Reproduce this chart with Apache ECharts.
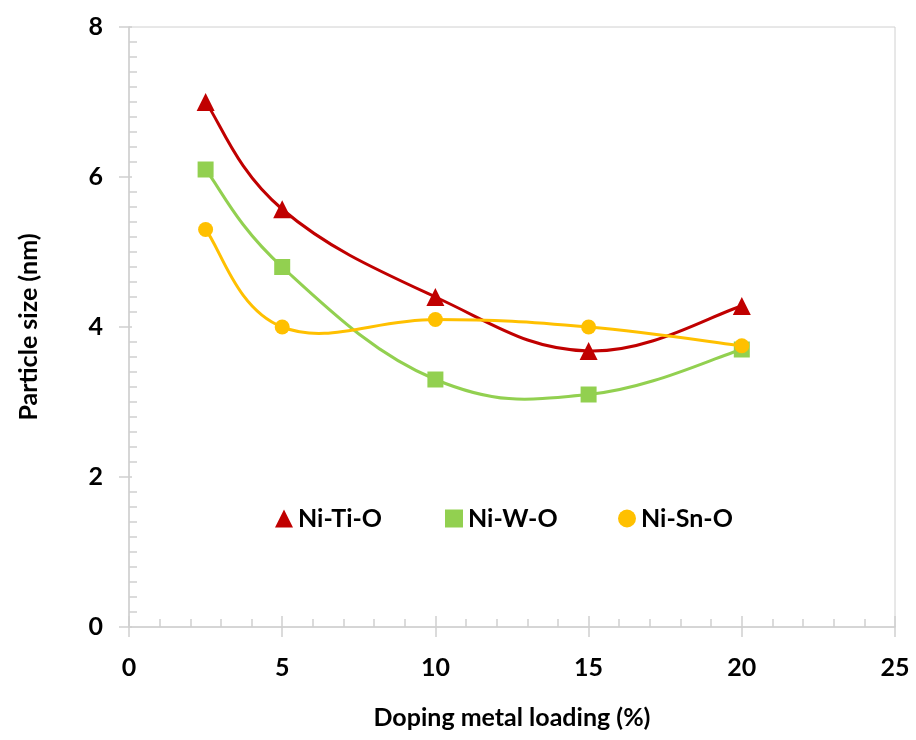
<!DOCTYPE html>
<html>
<head>
<meta charset="utf-8">
<script src="https://cdn.jsdelivr.net/npm/echarts@6/dist/echarts.min.js"></script>
<style>
  html, body { margin: 0; padding: 0; background: #fff; }
  #chart { width: 916px; height: 740px; }
</style>
</head>
<body>
<div id="chart"></div>
<script>
// Doping metal loading (%) at which each sample was measured
const loading = [2.5, 5, 10, 15, 20];

// Particle size (nm) per doped oxide
const niTiO = [7.0, 5.57, 4.4, 3.68, 4.28];
const niWO  = [6.1, 4.8, 3.3, 3.1, 3.7];
const niSnO = [5.3, 4.0, 4.1, 4.0, 3.75];

const seriesNames = ['Ni-Ti-O', 'Ni-W-O', 'Ni-Sn-O'];
const seriesColors = ['#C00000', '#92D050', '#FFC000'];

const FONT = 'Lato, "Open Sans", sans-serif';
const AXIS_GREY = '#d0d0d0';
const TENSION = 0.2;   // control-point distance as a fraction of the neighbour span

const pairs = (vals) => loading.map((x, i) => [x, vals[i]]);

const chart = echarts.init(document.getElementById('chart'), null, { renderer: 'canvas' });

// Smoothed connecting line: one cubic Bezier per segment, Catmull-Rom style,
// with control points derived from the neighbouring points in pixel space.
function curveSeries(name, vals, color, z) {
  return {
    name: name,
    type: 'custom',
    xAxisIndex: 0,
    yAxisIndex: 0,
    z: z,
    silent: true,
    itemStyle: { color: color },
    data: pairs(vals),
    encode: { x: 0, y: 1 },
    renderItem: function (params, api) {
      const i = params.dataIndex;
      const n = loading.length;
      if (i >= n - 1) return { type: 'group', children: [] };
      const clampIdx = (k) => Math.max(0, Math.min(n - 1, k));
      const pt = (k) => api.coord([loading[clampIdx(k)], vals[clampIdx(k)]]);
      const p0 = pt(i - 1), p1 = pt(i), p2 = pt(i + 1), p3 = pt(i + 2);
      return {
        type: 'bezierCurve',
        shape: {
          x1: p1[0], y1: p1[1],
          x2: p2[0], y2: p2[1],
          cpx1: p1[0] + (p2[0] - p0[0]) * TENSION,
          cpy1: p1[1] + (p2[1] - p0[1]) * TENSION,
          cpx2: p2[0] - (p3[0] - p1[0]) * TENSION,
          cpy2: p2[1] - (p3[1] - p1[1]) * TENSION
        },
        style: { stroke: color, lineWidth: 3, fill: null, lineCap: 'round' }
      };
    }
  };
}

function markerSeries(name, vals, color, symbol, size, z) {
  return {
    name: name,
    type: 'scatter',
    xAxisIndex: 0,
    yAxisIndex: 0,
    z: z,
    data: pairs(vals),
    symbol: symbol,
    symbolSize: size,
    itemStyle: { color: color, opacity: 1 },
    emphasis: { disabled: true }
  };
}

function legendAt(idx, icon, left) {
  return {
    data: [{ name: seriesNames[idx], icon: icon, itemStyle: { color: seriesColors[idx] } }],
    left: left,
    top: 501,
    itemWidth: 18,
    itemHeight: 18,
    itemGap: 0,
    textStyle: { fontFamily: FONT, fontSize: 25, fontWeight: 'bold', color: '#000' },
    selectedMode: false
  };
}

chart.setOption({
  backgroundColor: '#fff',
  animation: false,
  grid: {
    left: 129, right: 21, top: 27, bottom: 113,
    show: true, borderColor: AXIS_GREY, borderWidth: 1
  },
  legend: [
    legendAt(0, 'triangle', 270),
    legendAt(1, 'rect', 440),
    legendAt(2, 'circle', 613)
  ],
  xAxis: [
    {
      type: 'value', min: 0, max: 25, interval: 5,
      position: 'bottom',
      name: 'Doping metal loading (%)',
      nameLocation: 'middle',
      nameGap: 78,
      nameTextStyle: { fontFamily: FONT, fontSize: 25, fontWeight: 'bold', color: '#000' },
      axisLine: { show: true, lineStyle: { color: AXIS_GREY, width: 1.5 } },
      axisTick: { show: true, inside: true, length: 11, lineStyle: { color: AXIS_GREY, width: 1.5 } },
      minorTick: { show: true, splitNumber: 5, length: 8, lineStyle: { color: AXIS_GREY, width: 1.5 } },
      splitLine: { show: false },
      axisLabel: { fontFamily: FONT, fontSize: 25, fontWeight: 'bold', color: '#000', margin: 28 }
    },
    {
      type: 'value', min: 0, max: 25, interval: 5,
      position: 'bottom',
      axisLine: { show: false },
      axisTick: { show: true, inside: false, length: 10, lineStyle: { color: AXIS_GREY, width: 1.5 } },
      splitLine: { show: false },
      axisLabel: { show: false }
    }
  ],
  yAxis: [
    {
      type: 'value', min: 0, max: 8, interval: 2,
      position: 'left',
      name: 'Particle size (nm)',
      nameLocation: 'middle',
      nameGap: 88,
      nameTextStyle: { fontFamily: FONT, fontSize: 25, fontWeight: 'bold', color: '#000' },
      axisLine: { show: true, lineStyle: { color: AXIS_GREY, width: 1.5 } },
      axisTick: { show: true, inside: true, length: 3, lineStyle: { color: AXIS_GREY, width: 1.5 } },
      minorTick: { show: true, splitNumber: 10, length: 8, lineStyle: { color: AXIS_GREY, width: 1.5 } },
      splitLine: { show: false },
      axisLabel: { fontFamily: FONT, fontSize: 25, fontWeight: 'bold', color: '#000', margin: 26 }
    },
    {
      type: 'value', min: 0, max: 8, interval: 2,
      position: 'left',
      axisLine: { show: false },
      axisTick: { show: true, inside: false, length: 10, lineStyle: { color: AXIS_GREY, width: 1.5 } },
      splitLine: { show: false },
      axisLabel: { show: false }
    }
  ],
  series: [
    curveSeries(seriesNames[0], niTiO, seriesColors[0], 2),
    markerSeries(seriesNames[0], niTiO, seriesColors[0], 'triangle', 18, 3),
    curveSeries(seriesNames[1], niWO, seriesColors[1], 4),
    markerSeries(seriesNames[1], niWO, seriesColors[1], 'rect', 16, 5),
    curveSeries(seriesNames[2], niSnO, seriesColors[2], 6),
    markerSeries(seriesNames[2], niSnO, seriesColors[2], 'circle', 15, 7)
  ]
});
</script>
</body>
</html>
